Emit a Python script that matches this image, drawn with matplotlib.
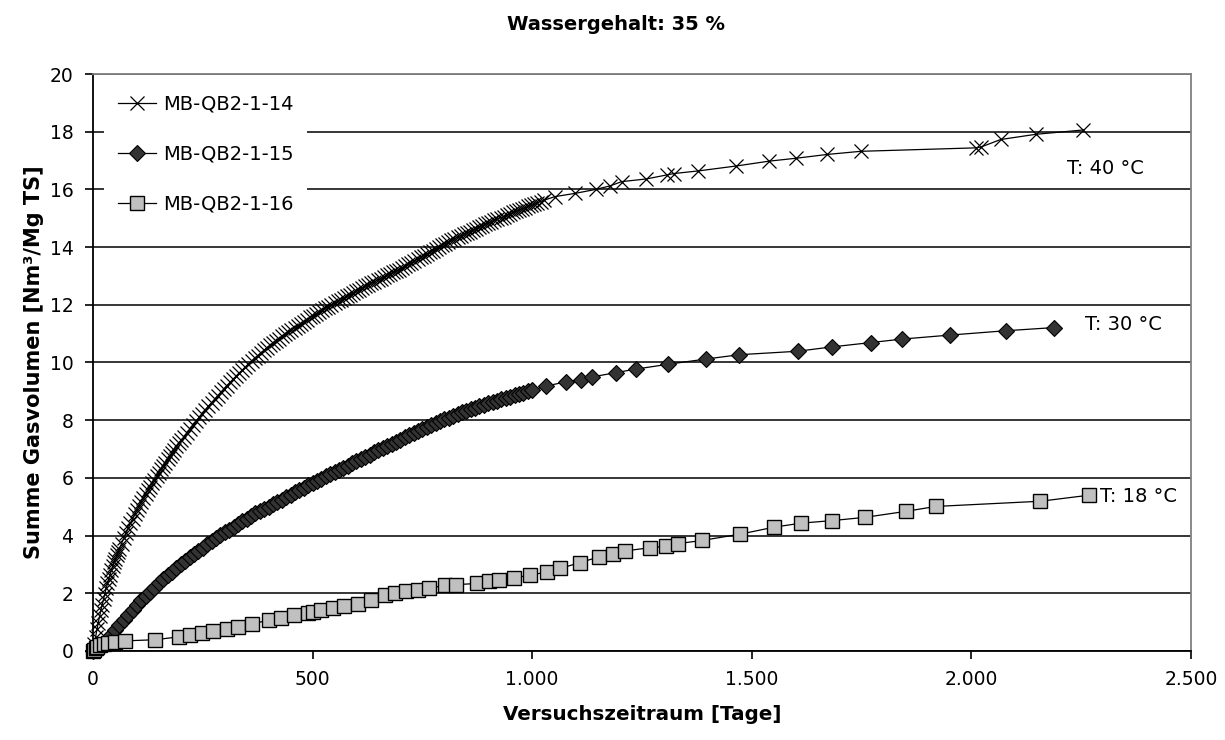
import matplotlib
matplotlib.use("Agg")
import matplotlib.pyplot as plt
from matplotlib.ticker import FuncFormatter

# MB-QB2-1-14, T: 40 °C
tage_14 = [0, 3, 6, 9, 12, 15, 18, 21, 24, 27, 30, 33, 36, 39, 42, 45, 48, 51, 54, 57, 60,
           65, 70, 75, 80, 85, 90, 95, 100, 105, 110, 115, 120, 125, 130, 135, 140, 145, 150,
           155, 160, 165, 170, 175, 180, 185, 190, 195, 200,
           207, 214, 221, 228, 235, 242, 249, 256, 263, 270, 277, 284, 291, 298, 305, 312, 319,
           326, 333, 340, 347, 354, 361, 368, 375, 382, 389, 396, 403, 410, 417, 424, 431, 438,
           445, 452, 459, 466, 473, 480, 487, 494, 501, 508, 515, 522, 529, 536, 543, 550, 557,
           564, 571, 578, 585, 592, 599, 606, 613, 620, 627, 634, 641, 648, 655, 662, 669, 676,
           683, 690, 697, 704, 711, 718, 725, 732, 739, 746, 753, 760, 767, 774, 781, 788, 795,
           802, 809, 816, 823, 830, 837, 844, 851, 858, 865, 872, 879, 886, 893, 900, 907, 914,
           921, 928, 935, 942, 949, 956, 963, 970, 977, 984, 991, 998, 1005, 1012, 1019, 1026,
           1052, 1097, 1145, 1177, 1204, 1259, 1306, 1323, 1378, 1464, 1540, 1601, 1671, 1748,
           2010, 2022, 2067, 2147, 2255]
gas_14 = [0.0, 0.25, 0.5, 0.75, 0.98, 1.2, 1.41, 1.6, 1.8, 1.99, 2.17, 2.34, 2.5, 2.65, 2.8,
          2.94, 3.07, 3.19, 3.31, 3.43, 3.54,
          3.72, 3.9, 4.08, 4.25, 4.42, 4.58, 4.74, 4.89, 5.04, 5.18, 5.32, 5.45, 5.58, 5.7, 5.82,
          5.94, 6.06, 6.18, 6.3, 6.42, 6.53, 6.65, 6.76, 6.87, 6.98, 7.09, 7.2, 7.3,
          7.41, 7.56, 7.7, 7.84, 7.97, 8.1, 8.23, 8.36, 8.49, 8.61, 8.73, 8.85, 8.97, 9.09, 9.2,
          9.31, 9.42, 9.53, 9.64, 9.74, 9.85, 9.95, 10.05, 10.15, 10.24, 10.33, 10.42, 10.51,
          10.59, 10.67, 10.75, 10.83, 10.91, 10.99, 11.07, 11.14, 11.21, 11.28, 11.35, 11.42,
          11.49, 11.56, 11.62, 11.69, 11.75, 11.82, 11.88, 11.94, 12.0, 12.06, 12.12, 12.18,
          12.24, 12.3, 12.35, 12.41, 12.47, 12.53, 12.58, 12.64, 12.7, 12.75, 12.8, 12.86,
          12.91, 12.96, 13.02, 13.07, 13.12, 13.17, 13.22, 13.28, 13.34, 13.4, 13.46, 13.52,
          13.58, 13.64, 13.7, 13.76, 13.82, 13.88, 13.94, 14.0, 14.06, 14.12, 14.18, 14.23,
          14.29, 14.34, 14.39, 14.44, 14.49, 14.54, 14.59, 14.64, 14.69, 14.74, 14.79, 14.84,
          14.88, 14.93, 14.97, 15.02, 15.06, 15.11, 15.15, 15.2, 15.24, 15.29, 15.33, 15.37,
          15.41, 15.45, 15.5, 15.54, 15.58, 15.62,
          15.75, 15.86, 16.0, 16.12, 16.27, 16.36, 16.5, 16.55, 16.64, 16.81, 16.98, 17.08,
          17.21, 17.32, 17.44, 17.47, 17.73, 17.91, 18.06]

# MB-QB2-1-15, T: 30 °C
tage_15 = [0, 10, 20, 30, 40, 50, 60, 70, 80, 90, 100, 110, 120, 130, 140, 150, 160, 170, 180,
           190, 200, 210, 220, 230, 240, 250, 260, 270, 280, 290, 300, 310, 320, 330, 340, 350,
           360, 370, 380, 390, 400, 410, 420, 430, 440, 450, 460, 470, 480, 490, 500, 510, 520,
           530, 540, 550, 560, 570, 580, 590, 600, 610, 620, 630, 640, 650, 660, 670, 680, 690,
           700, 710, 720, 730, 740, 750, 760, 770, 780, 790, 800, 810, 820, 830, 840, 850, 860,
           870, 880, 890, 900, 910, 920, 930, 940, 950, 960, 970, 980, 990, 1000,
           1031, 1077, 1111, 1137, 1191, 1236, 1310, 1396, 1472, 1605, 1682, 1771, 1841, 1951,
           2078, 2188]
gas_15 = [0.0, 0.08, 0.2, 0.36, 0.55, 0.72, 0.9, 1.08, 1.25, 1.43, 1.6, 1.75, 1.9, 2.05, 2.2,
          2.35, 2.5, 2.63, 2.75, 2.88, 3.0, 3.13, 3.25, 3.35, 3.45, 3.58, 3.7, 3.81, 3.92, 4.02,
          4.12, 4.21, 4.3, 4.4, 4.5, 4.59, 4.68, 4.77, 4.85, 4.93, 5.0, 5.09, 5.17, 5.25, 5.33,
          5.42, 5.5, 5.58, 5.66, 5.74, 5.82, 5.9, 5.97, 6.05, 6.12, 6.2, 6.27, 6.35, 6.42, 6.5,
          6.57, 6.65, 6.72, 6.8, 6.88, 6.95, 7.03, 7.1, 7.18, 7.25, 7.33, 7.4, 7.48, 7.55, 7.62,
          7.7, 7.77, 7.84, 7.9, 7.97, 8.03, 8.09, 8.15, 8.21, 8.27, 8.33, 8.38, 8.43, 8.48, 8.53,
          8.58, 8.63, 8.68, 8.73, 8.77, 8.82, 8.86, 8.91, 8.95, 9.0, 9.04,
          9.18, 9.33, 9.41, 9.5, 9.65, 9.77, 9.94, 10.12, 10.27, 10.39, 10.54, 10.69, 10.81,
          10.95, 11.10, 11.21]

# MB-QB2-1-16, T: 18 °C
tage_16 = [0, 3, 6, 10, 16, 24, 35, 50, 72, 142, 195, 221, 248, 274, 305, 331, 362, 401, 428,
           458, 489, 502, 520, 546, 572, 603, 634, 665, 687, 713, 739, 766, 801, 827, 875, 902,
           924, 959, 994, 1033, 1064, 1108, 1152, 1183, 1212, 1269, 1304, 1332, 1386, 1474, 1550,
           1612, 1683, 1757, 1851, 1919, 2157, 2268]
gas_16 = [0.0, 0.05, 0.1, 0.15, 0.2, 0.25, 0.28, 0.31, 0.35, 0.39, 0.49, 0.54, 0.64, 0.69, 0.77,
          0.83, 0.95, 1.06, 1.16, 1.23, 1.32, 1.36, 1.43, 1.50, 1.57, 1.64, 1.76, 1.93, 2.01,
          2.08, 2.13, 2.17, 2.28, 2.30, 2.34, 2.42, 2.47, 2.54, 2.62, 2.74, 2.86, 3.06, 3.26,
          3.35, 3.47, 3.58, 3.63, 3.72, 3.83, 4.05, 4.29, 4.43, 4.52, 4.63, 4.84, 5.01, 5.19,
          5.40]

temp_labels = ["T: 40 °C", "T: 30 °C", "T: 18 °C"]
temp_pos = [(2218, 16.74), (2259, 11.33), (2293, 5.34)]

plt.rcParams['font.family'] = ['DejaVu Sans']

fig = plt.figure(figsize=(12.25, 7.4), dpi=100)
ax = fig.add_axes([0.0759, 0.1203, 0.8963, 0.7797])

ax.plot(tage_14, gas_14, color='black', lw=0.9, marker='x', ms=10, mew=0.9,
        mec='black', label='MB-QB2-1-14', clip_on=False, zorder=3)
ax.plot(tage_15, gas_15, color='black', lw=0.9, marker='D', ms=8, mew=0.8,
        mfc='#333333', mec='black', label='MB-QB2-1-15', clip_on=False, zorder=4)
ax.plot(tage_16, gas_16, color='black', lw=0.9, marker='s', ms=10, mew=1.0,
        mfc='#c0c0c0', mec='black', label='MB-QB2-1-16', clip_on=False, zorder=5)

for txt, (px, py) in zip(temp_labels, temp_pos):
    ax.text(px, py, txt, fontsize=14, ha='left', va='center', zorder=6)

ax.set_xlim(0, 2500)
ax.set_ylim(0, 20)
ax.set_xticks(range(0, 2501, 500))
ax.set_yticks(range(0, 21, 2))
ax.xaxis.set_major_formatter(FuncFormatter(lambda v, p: f"{int(v):,}".replace(",", ".")))
ax.tick_params(axis='both', direction='out', length=6, width=1.2, labelsize=13.5, pad=8)

ax.grid(axis='y', color='black', lw=1.1, zorder=1)
ax.set_axisbelow(True)
for s in ['left', 'bottom']:
    ax.spines[s].set_color('black')
    ax.spines[s].set_linewidth(1.3)
for s in ['top', 'right']:
    ax.spines[s].set_color('#808080')
    ax.spines[s].set_linewidth(1.3)

ax.set_xlabel('Versuchszeitraum [Tage]', fontsize=14.3, fontweight='bold')
ax.set_ylabel('Summe Gasvolumen [Nm³/Mg TS]', fontsize=15, fontweight='bold')
ax.xaxis.set_label_coords(0.5, -0.093)
ax.yaxis.set_label_coords(-0.045, 0.5)

fig.text(0.503, 1 - 25 / 740, 'Wassergehalt: 35 %', fontsize=14, fontweight='bold',
         ha='center', va='center')

leg = ax.legend(loc='upper left', bbox_to_anchor=(0.01, 0.988), borderaxespad=0,
                fontsize=14, frameon=True, facecolor='white', edgecolor='none',
                framealpha=1, fancybox=False, handlelength=2.0, handletextpad=0.35,
                labelspacing=1.6, borderpad=0.7)
leg.set_zorder(10)

fig.savefig('out.png', dpi=100, facecolor='white')
